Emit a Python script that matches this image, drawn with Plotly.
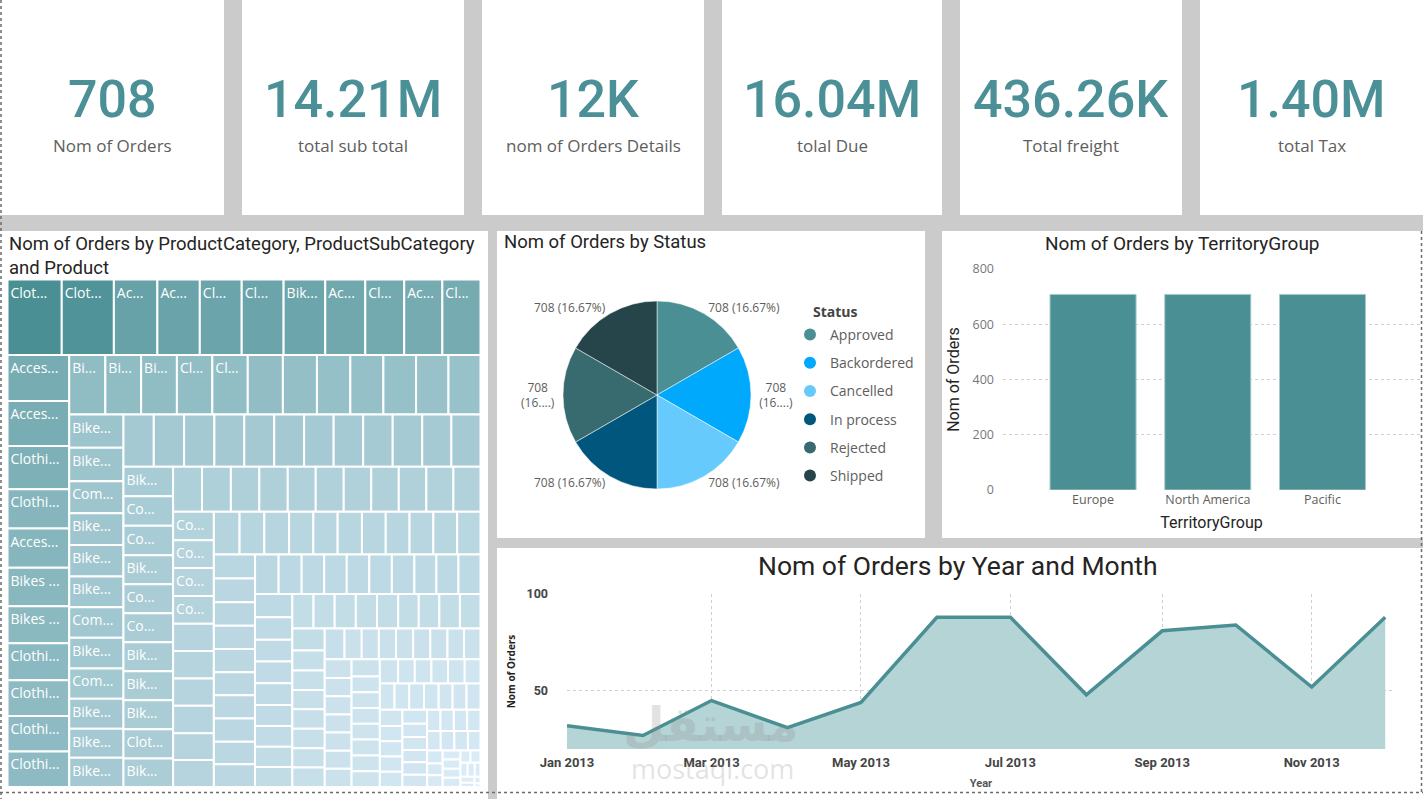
import plotly.graph_objects as go

W, H = 1423, 799

# ---------------- data ----------------
kpi_values = ["708", "14.21M", "12K", "16.04M", "436.26K", "1.40M"]
kpi_names = ["Nom of Orders", "total sub total", "nom of Orders Details",
             "tolal Due", "Total freight", "total Tax"]

status_names = ["Approved", "Backordered", "Cancelled", "In process", "Rejected", "Shipped"]
status_orders = [708, 708, 708, 708, 708, 708]
status_colors = ["#4a8f94", "#00a9fc", "#66cbfc", "#00567d", "#376b70", "#26454a"]

territory_groups = ["Europe", "North America", "Pacific"]
territory_orders = [708, 708, 708]

month_dates = ["2013-01-01", "2013-02-01", "2013-03-01", "2013-04-01", "2013-05-01", "2013-06-01",
               "2013-07-01", "2013-08-01", "2013-09-01", "2013-10-01", "2013-11-01", "2013-12-01"]
month_orders = [32, 27, 45, 31, 44, 88, 88, 48, 81, 84, 52, 88]

# orders per product (ProductCategory > ProductSubCategory > Product), largest first
product_orders = [
    202, 194, 162, 158, 156, 156, 155, 149, 145, 142, 142,
    140, 137, 131, 120, 119, 117, 113, 112, 109, 108, 108,
    106, 105, 105, 104, 104, 103, 100, 98, 97, 96, 95, 94,
    89, 89, 86, 85, 84, 82, 82, 82, 81, 80, 78, 78,
    78, 78, 78, 77, 77, 77, 76, 76, 76, 76, 75, 75,
    72, 72, 72, 71, 71, 71, 71, 71, 71, 71, 70,
    64, 64, 63, 63, 62, 62, 61, 61, 61, 60, 60,
    57, 56, 56, 56, 55, 55, 55, 55, 54, 54, 54,
    52, 52, 51, 51, 51, 50, 50, 50, 50, 49, 49,
    48, 48, 47, 47, 47, 47, 47, 46, 46, 46,
    45, 44, 44, 44, 44, 44, 43, 43, 43, 43,
    41, 40, 40, 40, 39, 38, 37, 37, 36,
    36, 36, 36, 36, 35, 35, 35, 35, 35,
    32, 31, 31, 31, 31, 31, 31, 30,
    26, 26, 26, 26, 26, 26, 25, 25, 25,
    24, 24, 24, 24, 24, 24, 24,
    22, 22, 22, 22, 22, 22, 22, 22,
    20, 20, 20, 20, 19, 19,
    19, 19, 19, 18, 18, 18, 18,
    17, 17, 17, 17, 17,
    16, 16, 15, 15, 15,
    14, 14, 14, 14,
    13, 13, 13, 12,
    10, 9, 9,
    8, 8, 8, 8,
    6, 6, 5, 5, 4, 4, 3, 2, 1,
]
product_labels = [
    "Clot...", "Clot...", "Ac...", "Ac...", "Cl...", "Cl...", "Bik...", "Ac...", "Cl...", "Ac...", "Cl...",
    "Acces...", "Acces...", "Clothi...", "Clothi...", "Acces...", "Bikes ...", "Bikes ...",
    "Clothi...", "Clothi...", "Clothi...", "Clothi...",
    "Bi...", "Bi...", "Bi...", "Cl...", "Cl...", "", "", "", "", "", "", "",
    "Bike...", "Bike...", "Com...", "Bike...", "Bike...", "Bike...", "Com...", "Bike...", "Com...",
    "Bike...", "Bike...", "Bike...",
    "", "", "", "", "", "", "", "", "", "", "", "",
    "Bik...", "Co...", "Co...", "Bik...", "Co...", "Co...", "Bik...", "Bik...", "Bik...", "Clot...", "Bik...",
    "", "", "", "", "", "", "", "", "", "", "",
    "Co...", "Co...", "Co...", "Co...",
]
product_labels += [""] * (len(product_orders) - len(product_labels))


def fx(p):
    return p / W


def fy(p):
    return 1 - p / H


TEAL = "#4a8f94"
DIN = "Roboto"
SEGOE = "Open Sans"

fig = go.Figure()

# ---------------- treemap ----------------
fig.add_trace(go.Treemap(
    ids=[f"product {i + 1}" for i in range(len(product_orders))],
    labels=[f"product {i + 1}" for i in range(len(product_orders))],
    parents=[""] * len(product_orders),
    values=product_orders,
    text=product_labels,
    texttemplate="%{text}",
    textposition="top left",
    textfont=dict(family=SEGOE, size=14, color="white"),
    sort=True,
    tiling=dict(packing="squarify", squarifyratio=1.618, pad=0),
    marker=dict(colors=product_orders,
                colorscale=[[0, "#dcedf8"], [1, TEAL]],
                line=dict(color="white", width=2),
                pad=dict(t=0, l=0, r=0, b=0),
                showscale=False),
    pathbar=dict(visible=False),
    domain=dict(x=[fx(7.5), fx(480.5)], y=[fy(787), fy(279.5)]),
    hoverinfo="label+value",
))

# ---------------- pie ----------------
total_status = sum(status_orders)
pie_text = []
for name, v in zip(status_names, status_orders):
    pct = f"{v / total_status * 100:.2f}%"
    if name in ("Backordered", "Rejected"):
        pie_text.append(f"{v}<br>({pct[:2]}....)")
    else:
        pie_text.append(f"{v} ({pct})")

fig.add_trace(go.Pie(
    labels=status_names, values=status_orders, text=pie_text,
    textinfo="text", textposition="outside", sort=False,
    direction="clockwise", rotation=0, automargin=False,
    marker=dict(colors=status_colors, line=dict(color="white", width=0.5)),
    outsidetextfont=dict(family=SEGOE, size=12, color="#605e5c"),
    textfont=dict(family=SEGOE, size=12, color="#605e5c"),
    showlegend=False,
    domain=dict(x=[fx(563), fx(751)], y=[fy(489), fy(301)]),
    hoverinfo="label+value",
))

# legend entries for the pie
for name, color in zip(status_names, status_colors):
    fig.add_trace(go.Scatter(x=[None], y=[None], mode="markers", name=name,
                             legendgroup=name, marker=dict(color=color, size=12),
                             xaxis="x", yaxis="y", hoverinfo="skip"))

# ---------------- bar ----------------
fig.add_trace(go.Bar(
    x=territory_groups, y=territory_orders, width=0.75,
    marker=dict(color=TEAL, line=dict(color="#a7c9cb", width=1)),
    xaxis="x", yaxis="y", showlegend=False,
))

# ---------------- line / area ----------------
fig.add_trace(go.Scatter(
    x=month_dates, y=month_orders, mode="lines",
    line=dict(color=TEAL, width=3.5),
    fill="tozeroy", fillcolor="#b5d4d6",
    xaxis="x2", yaxis="y2", showlegend=False,
))

# ---------------- panels ----------------
shapes = []


def panel(x0, y0, x1, y1):
    shapes.append(dict(type="rect", xref="paper", yref="paper",
                       x0=fx(x0), x1=fx(x1), y0=fy(y1), y1=fy(y0),
                       fillcolor="white", line=dict(width=0), layer="below"))


card_x = [(0, 224), (242, 464), (482, 704), (722, 942), (960, 1182), (1200, 1423)]
for a, b in card_x:
    panel(a, 0, b, 215)
panel(0, 231, 488, 799)
panel(497, 231, 925, 538)
panel(942, 231, 1423, 538)
panel(497, 548, 1423, 799)

# dotted selection borders
for (x0, y0, x1, y1) in [(1, 0, 1, 799), (0, 792.5, 1423, 792.5), (1421.5, 231, 1421.5, 792)]:
    shapes.append(dict(type="line", xref="paper", yref="paper",
                       x0=fx(x0), x1=fx(x1), y0=fy(y0), y1=fy(y1),
                       line=dict(color="#6b6b6b", width=1.5, dash="dot"), layer="above"))

# ---------------- annotations ----------------
ann = []
for (a, b), val, name in zip(card_x, kpi_values, kpi_names):
    cx = (a + b) / 2
    ann.append(dict(text=val, x=fx(cx), y=fy(100), xref="paper", yref="paper",
                    showarrow=False, xanchor="center", yanchor="middle",
                    font=dict(family=DIN, size=52, color="#4a9096", weight=500)))
    ann.append(dict(text=name, x=fx(cx), y=fy(145), xref="paper", yref="paper",
                    showarrow=False, xanchor="center", yanchor="middle",
                    font=dict(family=SEGOE, size=17, color="#605e5c")))

ann.append(dict(text="Nom of Orders by ProductCategory, ProductSubCategory<br>and Product",
                x=fx(7), y=fy(231), xref="paper", yref="paper", showarrow=False,
                xanchor="left", yanchor="top", align="left",
                font=dict(family=DIN, size=18.5, color="#252423")))
ann.append(dict(text="Nom of Orders by Status", x=fx(502), y=fy(242), xref="paper", yref="paper",
                showarrow=False, xanchor="left", yanchor="middle",
                font=dict(family=DIN, size=18.5, color="#252423")))
ann.append(dict(text="Nom of Orders by TerritoryGroup", x=fx(1182), y=fy(243), xref="paper", yref="paper",
                showarrow=False, xanchor="center", yanchor="middle",
                font=dict(family=DIN, size=19, color="#252423")))
ann.append(dict(text="Nom of Orders by Year and Month", x=fx(958), y=fy(565), xref="paper", yref="paper",
                showarrow=False, xanchor="center", yanchor="middle",
                font=dict(family=DIN, size=26.5, color="#252423")))
# legend title
ann.append(dict(text="<b>Status</b>", x=fx(811), y=fy(311), xref="paper", yref="paper",
                showarrow=False, xanchor="left", yanchor="middle",
                font=dict(family=SEGOE, size=14, color="#444")))
# watermark
ann.append(dict(text="<b>مستقل</b>", x=fx(711), y=fy(724), xref="paper", yref="paper",
                showarrow=False, xanchor="center", yanchor="middle",
                font=dict(family="DejaVu Sans", size=48, color="rgba(140,140,140,0.25)")))
ann.append(dict(text="mostaqi.com", x=fx(713), y=fy(768), xref="paper", yref="paper",
                showarrow=False, xanchor="center", yanchor="middle",
                font=dict(family=SEGOE, size=27, color="rgba(140,140,140,0.25)")))

fig.update_layout(
    width=W, height=H, autosize=False,
    margin=dict(l=0, r=0, t=0, b=0, pad=0, autoexpand=False),
    paper_bgcolor="#cbcbcb", plot_bgcolor="rgba(0,0,0,0)",
    font=dict(family=SEGOE, color="#605e5c"),
    shapes=shapes, annotations=ann,
    legend=dict(x=fx(790), y=fy(319), xanchor="left", yanchor="top",
                font=dict(family=SEGOE, size=14, color="#605e5c"),
                traceorder="grouped", tracegroupgap=7,
                bgcolor="rgba(0,0,0,0)", itemclick=False),
    xaxis=dict(domain=[fx(1003), fx(1420)], anchor="y", type="category", automargin=False,
               range=[-0.785, 2.85], showgrid=False, showline=False, zeroline=False, ticks="",
               tickfont=dict(family=SEGOE, size=12.5, color="#605e5c"),
               title=dict(text="TerritoryGroup", standoff=10,
                          font=dict(family=DIN, size=16, color="#252423"))),
    yaxis=dict(domain=[fy(490), fy(269)], anchor="x", range=[0, 800], dtick=200, automargin=False,
               showgrid=True, gridcolor="#cfcfcf", griddash="dot", gridwidth=1,
               zeroline=False, showline=False, ticks="", ticklabelstandoff=8,
               tickfont=dict(family=SEGOE, size=12.5, color="#777"),
               title=dict(text="Nom of Orders", standoff=8,
                          font=dict(family=DIN, size=16, color="#252423"))),
    xaxis2=dict(domain=[fx(567), fx(1395)], anchor="y2", type="date", automargin=False,
                range=["2013-01-01", "2013-12-05"], dtick="M2", tick0="2013-01-01",
                tickformat="%b %Y", showgrid=True, gridcolor="#cfcfcf", griddash="dot",
                zeroline=False, showline=False, ticks="", ticklabelstandoff=4,
                tickfont=dict(family=DIN, size=13, color="#444", weight="bold"),
                title=dict(text="Year", standoff=10,
                           font=dict(family=DIN, size=11, color="#555", weight="bold"))),
    yaxis2=dict(domain=[fy(749), fy(594)], anchor="x2", range=[20, 100], automargin=False,
                tickvals=[50, 100], showgrid=True, gridcolor="#cfcfcf", griddash="dot",
                zeroline=False, showline=False, ticks="", ticklabelstandoff=18,
                tickfont=dict(family=DIN, size=12.5, color="#444", weight="bold"),
                title=dict(text="Nom of Orders", standoff=8,
                           font=dict(family=SEGOE, size=10, color="#252423", weight="bold"))),
)

fig.write_html("out.html")
